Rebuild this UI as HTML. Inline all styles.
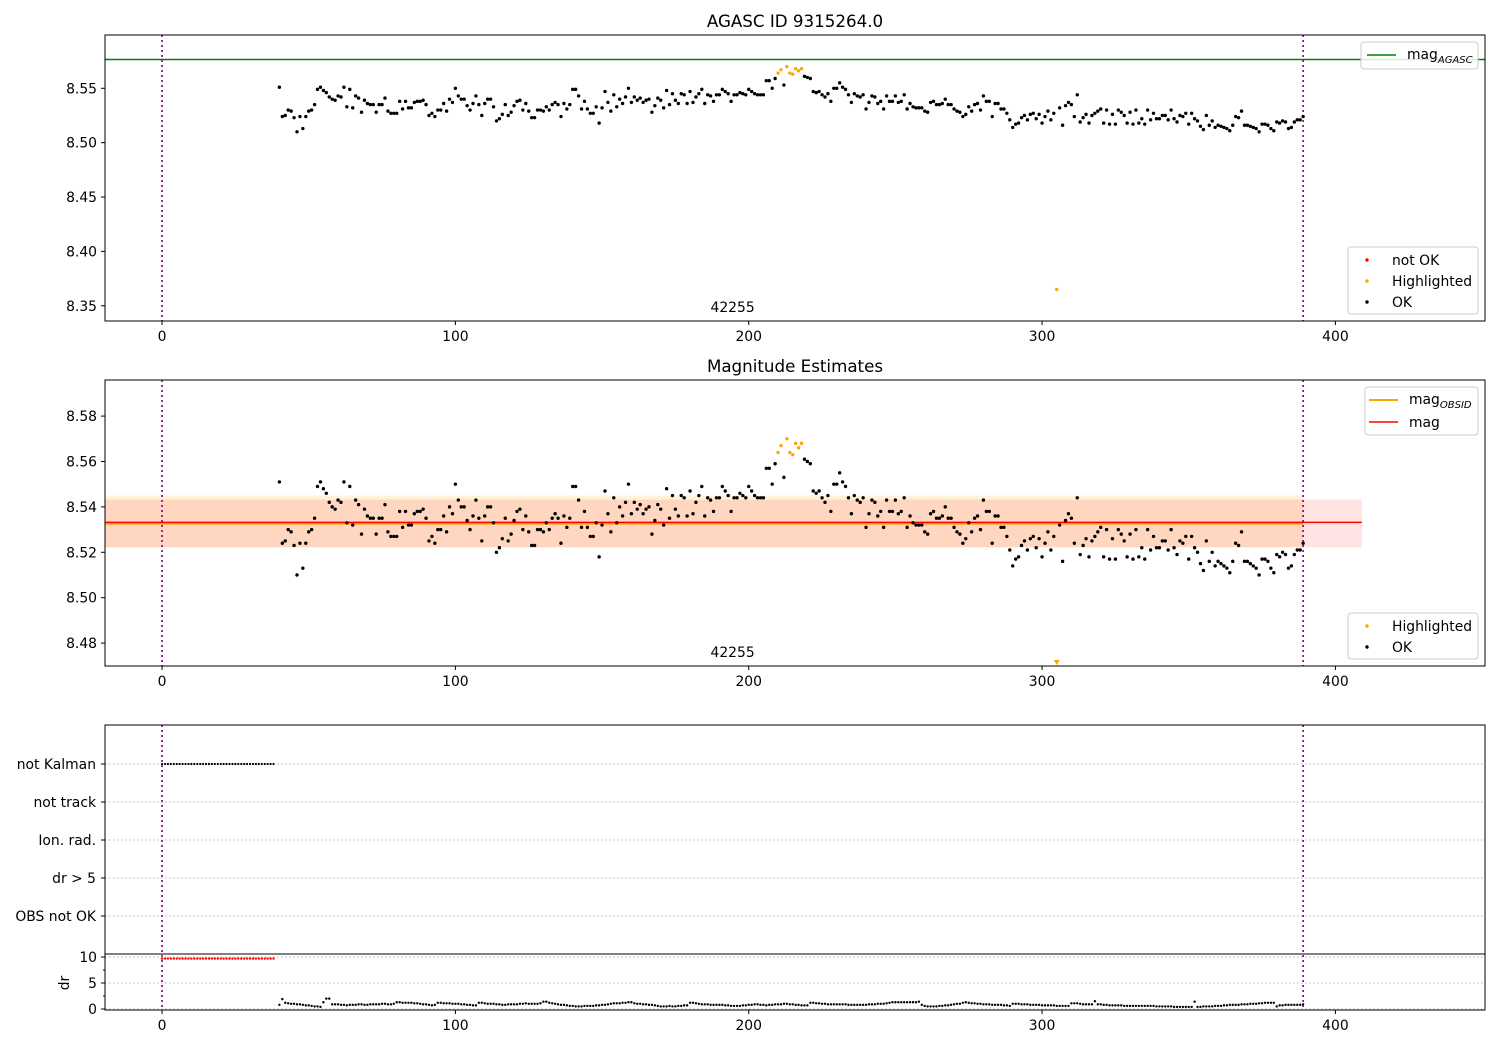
<!DOCTYPE html>
<html><head><meta charset="utf-8"><style>
body{margin:0;background:#fff;}
svg{display:block;font-family:"DejaVu Sans","Liberation Sans",sans-serif;}
text{fill:#000;}
</style></head><body>
<svg id="fig" width="1500" height="1050" xmlns="http://www.w3.org/2000/svg"></svg>
<script>
const xStart = 40;
const magMilli = [
51,24,25,30,29,23,10,24,13,24, 29,30,35,49,51,48,46,42,40,39, 43,42,51,33,49,32,43,41,28,39,
36,35,35,28,35,35,41,29,27,27, 27,38,31,38,32,32,37,38,38,39, 35,25,27,24,30,30,36,29,40,37,
50,43,40,40,34,30,36,43,35,25, 36,40,40,33,20,22,26,35,25,28, 34,38,39,30,36,29,23,23,30,30,
29,33,30,35,37,35,24,36,31,35, 49,49,43,31,38,31,27,27,33,18, 32,47,37,29,44,33,40,36,42,50,
37,42,39,41,37,39,40,28,34,41, 39,32,48,35,45,39,36,45,44,36, 47,37,42,45,49,36,44,43,38,44,
44,49,47,45,38,44,44,46,45,44, 49,47,45,44,44,44,57,57,50,59, 64,67,53,70,64,63,68,66,68,61,
60,59,47,46,47,44,42,45,38,50, 50,55,51,49,44,37,45,43,42,44, 31,37,43,42,36,38,31,43,38,38,
43,37,38,44,31,36,33,32,32,32, 29,28,37,38,35,35,36,40,35,35, 31,29,28,24,26,33,29,35,36,30,
43,38,38,24,36,36,31,31,27,21, 14,17,18,23,25,21,26,27,22,26, 18,24,29,21,27,-135,32,16,34,37,
35,24,44,19,23,26,18,25,27,29, 31,18,30,17,26,17,30,28,25,18, 28,17,30,18,22,17,30,21,27,22,
22,25,25,21,30,22,19,25,24,27, 17,27,22,20,15,12,25,16,20,14, 16,15,14,13,11,16,24,23,29,16,
16,15,14,13,10,17,17,16,13,11, 19,18,20,19,13,14,19,21,21,24];
const highlightedX = [210,211,213,214,215,216,217,218,305];
const drTenths = [
8,19,12,11,10,10,9,9,8,7, 7,6,5,5,4,13,20,20,9,9, 9,8,8,7,8,8,8,9,9,8, 8,9,9,9,9,10,10,9,9,10,
13,13,12,12,12,12,11,11,10,9, 9,8,7,8,12,12,11,11,11,10, 10,10,9,9,8,8,7,7,12,12, 11,10,10,10,9,9,8,8,9,9,
9,9,10,10,11,10,10,10,10,11, 14,14,12,11,10,9,8,8,7,6, 6,5,5,5,6,6,6,6,7,7, 8,8,9,10,11,11,11,12,12,13,
13,11,10,10,9,9,8,8,7,6, 5,5,5,6,5,5,6,6,7,7, 12,12,11,10,9,9,9,8,8,8, 8,8,7,7,6,6,6,6,7,7,
8,8,9,9,8,8,7,8,8,9, 9,9,10,10,9,9,8,8,7,7, 7,12,12,11,11,10,10,9,9,9, 9,9,9,9,8,8,8,8,8,8,
8,9,9,9,10,10,10,11,12,13, 13,13,13,13,13,13,13,13,14,8, 6,5,5,5,5,6,6,7,7,8, 9,10,10,12,13,12,11,11,10,10,
9,9,9,8,8,8,8,7,7,6, 10,10,10,9,9,9,8,8,8,8, 7,7,7,7,7,6,6,6,6,6, 11,11,11,10,9,9,9,9,15,9,
9,8,8,7,7,7,7,7,6,6, 6,6,6,6,6,6,6,6,6,5, 5,5,5,5,5,4,4,4,4,4, 4,4,14,4,4,5,5,5,5,6,
6,6,7,7,8,8,8,8,9,9, 9,10,10,10,11,11,12,12,12,12, 5,7,7,8,8,8,8,8,8,9];
const notKalmanX = [];
for (let i = 0; i <= 38; i++) notKalmanX.push(i);
const redDrValue = 9.7;
const magAgasc = 8.5765;
const magMean = 8.5332;
const magBandLo = 8.5222, magBandHi = 8.5432;
const magObsBandHi = 8.5450;
const xTicks = [0,100,200,300,400];
const yTicksTop = [8.35,8.40,8.45,8.50,8.55];
const yTicksMid = [8.48,8.50,8.52,8.54,8.56,8.58];
const flagLabels = ["OBS not OK","dr > 5","Ion. rad.","not track","not Kalman"];
const drTicks = [0,5,10];

const NS = "http://www.w3.org/2000/svg";
const svg = document.getElementById("fig");
function el(tag, attrs, parent){const e=document.createElementNS(NS,tag);for(const k in attrs)e.setAttribute(k,attrs[k]);(parent||svg).appendChild(e);return e;}
const L=105,R=1485,X0=-19.45,X1=451;
const FS=13.9;
const sx = v => L + (v - X0) / (X1 - X0) * (R - L);
function ys(top,bot,y0,y1){return v => bot - (v - y0)/(y1 - y0)*(bot - top);}
const y1s = ys(35,321,8.336,8.599);
const y2s = ys(380,666,8.4699,8.5959);
const ydr = ys(954,1010,-0.19,10.58);
const yflag = i => 916 - i*38;

function frame(top,bot,name){
  const r=el("rect",{x:L,y:top,width:R-L,height:bot-top,fill:"none",stroke:"#000","stroke-width":1});
  
  
}
function xAxis(bot,labels){
  xTicks.forEach(t=>{
    el("line",{x1:sx(t),x2:sx(t),y1:bot,y2:bot+4,stroke:"#000"});
    if(labels){const tx=el("text",{x:sx(t),y:bot+20,"text-anchor":"middle","font-size":FS});tx.textContent=t;
      
      }
  });
}
function yAxis(ticks,yf,fmt){
  ticks.forEach(t=>{
    el("line",{x1:L-4,x2:L,y1:yf(t),y2:yf(t),stroke:"#000"});
    const tx=el("text",{x:L-8,y:yf(t)+5,"text-anchor":"end","font-size":FS});tx.textContent=fmt(t);
    
    
  });
}
function vlines(top,bot){
  [0,389].forEach(v=>{const l=el("line",{x1:sx(v),x2:sx(v),y1:top,y2:bot,stroke:"#800080","stroke-width":1.6,"stroke-dasharray":"2,3"});
    
    });
}
function title(txt,y,name){const t=el("text",{x:795,y:y,"text-anchor":"middle","font-size":16.7});t.textContent=txt;
  
  }
function points(yf,lo,hi,top,bot){
  const g=el("g",{});
  
  
  magMilli.forEach((m,i)=>{
    const x=xStart+i, v=8.5+m/1000;
    const hl=highlightedX.includes(x);
    const col=hl?"#ffa500":"#000";
    if(v<lo){
      const px=sx(x),py=bot-3;
      const p=el("path",{d:`M${px-3},${py-3}L${px+3},${py-3}L${px},${py+2}Z`,fill:col},g);
      
      
      return;
    }
    const c=el("circle",{cx:sx(x),cy:yf(v),r:1.7,fill:col},g);
    
    
  });
}
function legendBox(x,y,w,h,name){const r=el("rect",{x:x,y:y,width:w,height:h,rx:3,fill:"#fff","fill-opacity":0.85,stroke:"#ccc"});
  }
function legText(x,y,txt,sub){const t=el("text",{x:x,y:y,"font-size":FS});t.textContent=txt;
  if(sub){const s=el("tspan",{"font-size":10,"font-style":"italic",dy:4},t);s.textContent=sub;}
  }

// ---- Panel 1
title("AGASC ID 9315264.0",27,"top-title");
const ag=el("line",{x1:L,x2:R,y1:y1s(magAgasc),y2:y1s(magAgasc),stroke:"#008000","stroke-width":1.5});

vlines(35,321);
points(y1s,8.336,8.599,35,321);
frame(35,321,"top-axes");
xAxis(321,true);
yAxis(yTicksTop,y1s,t=>t.toFixed(2));
let t1=el("text",{x:sx(194.5),y:312,"text-anchor":"middle","font-size":FS});t1.textContent="42255";

legendBox(1361,42,117,27,"agasc-legend");
el("line",{x1:1367,x2:1396,y1:55,y2:55,stroke:"#008000","stroke-width":1.5});
legText(1407,59,"mag","AGASC");
legendBox(1348,247,130,67,"status-legend-top");
el("circle",{cx:1367,cy:260,r:1.7,fill:"#ff0000"});legText(1392,265,"not OK");
el("circle",{cx:1367,cy:281,r:1.7,fill:"#ffa500"});legText(1392,286,"Highlighted");
el("circle",{cx:1367,cy:302,r:1.7,fill:"#000"});legText(1392,307,"OK");

// ---- Panel 2
title("Magnitude Estimates",372,"middle-title");
const band1=el("rect",{x:L,y:y2s(magObsBandHi),width:sx(389)-L,height:y2s(magBandLo)-y2s(magObsBandHi),fill:"#ffa500","fill-opacity":0.15});

const band2=el("rect",{x:L,y:y2s(magBandHi),width:sx(409)-L,height:y2s(magBandLo)-y2s(magBandHi),fill:"#ff0000","fill-opacity":0.11});

el("line",{x1:L,x2:sx(389),y1:y2s(magMean)+1.5,y2:y2s(magMean)+1.5,stroke:"#ffa500","stroke-width":1.5});
const ml=el("line",{x1:L,x2:sx(409),y1:y2s(magMean),y2:y2s(magMean),stroke:"#ff0000","stroke-width":1.5});

vlines(380,666);
points(y2s,8.4699,8.5959,380,666);
frame(380,666,"middle-axes");
xAxis(666,true);
yAxis(yTicksMid,y2s,t=>t.toFixed(2));
let t2=el("text",{x:sx(194.5),y:657,"text-anchor":"middle","font-size":FS});t2.textContent="42255";

legendBox(1365,387,113,48,"mag-legend");
el("line",{x1:1369,x2:1398,y1:400,y2:400,stroke:"#ffa500","stroke-width":2});legText(1409,404,"mag","OBSID");
el("line",{x1:1369,x2:1398,y1:422,y2:422,stroke:"#ff0000","stroke-width":1.5});legText(1409,427,"mag");
legendBox(1348,613,130,46,"status-legend-middle");
el("circle",{cx:1367,cy:626,r:1.7,fill:"#ffa500"});legText(1392,631,"Highlighted");
el("circle",{cx:1367,cy:647,r:1.7,fill:"#000"});legText(1392,652,"OK");

// ---- Panel 3 flags
flagLabels.forEach((f,i)=>{
  el("line",{x1:L,x2:R,y1:yflag(i),y2:yflag(i),stroke:"#b0b0b0","stroke-dasharray":"1.5,2.5"});
  el("line",{x1:L-4,x2:L,y1:yflag(i),y2:yflag(i),stroke:"#000"});
  const t=el("text",{x:L-9,y:yflag(i)+5,"text-anchor":"end","font-size":FS});t.textContent=f;
  
});
vlines(725,1010);
notKalmanX.forEach(x=>{const c=el("circle",{cx:sx(x),cy:yflag(4),r:1.1,fill:"#000"});
  });
frame(725,954,"flags-axes");

// ---- Panel 4 dr
drTicks.forEach(t=>{el("line",{x1:L,x2:R,y1:ydr(t),y2:ydr(t),stroke:"#b0b0b0","stroke-dasharray":"1.5,2.5"});});
[2.5,7.5].forEach(t=>el("line",{x1:L-2,x2:L,y1:ydr(t),y2:ydr(t),stroke:"#000"}));
notKalmanX.forEach(x=>{const c=el("circle",{cx:sx(x),cy:ydr(redDrValue),r:1.2,fill:"#ff0000"});
  });
drTenths.forEach((d,i)=>{const c=el("circle",{cx:sx(xStart+i),cy:ydr(d/10),r:1.2,fill:"#000"});
  });
frame(954,1010,"dr-axes");
xAxis(1010,true);
yAxis(drTicks,ydr,t=>String(t));
const dl=el("text",{x:69,y:983,"text-anchor":"middle","font-size":FS,transform:"rotate(-90 69 983)"});dl.textContent="dr";

</script>
</body></html>
